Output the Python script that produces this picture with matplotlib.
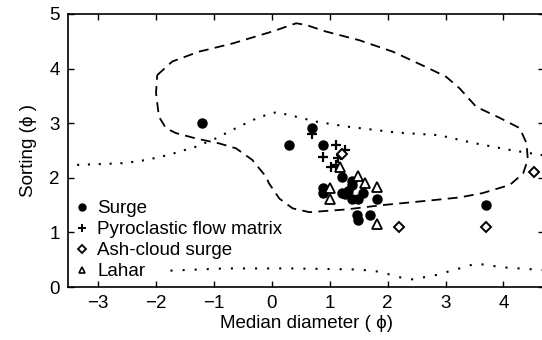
import matplotlib
matplotlib.use("Agg")
import matplotlib.pyplot as plt
from matplotlib.lines import Line2D

plt.rcParams['font.family'] = ['Liberation Sans', 'DejaVu Sans']

# ---- data ----
surge_x = [-1.20, 0.30, 0.69, 0.89, 1.21, 0.89, 0.89, 1.21, 1.38, 1.32, 1.38, 1.49,
           1.58, 1.81, 1.47, 1.49, 1.70, 3.70, 1.38, 1.26]
surge_y = [3.01, 2.60, 2.91, 2.60, 2.02, 1.81, 1.72, 1.72, 1.87, 1.75, 1.62, 1.61,
           1.72, 1.62, 1.32, 1.23, 1.32, 1.51, 1.95, 1.70]

pyro_x = [0.69, 1.10, 0.89, 1.26, 1.15, 1.10, 1.03, 1.20]
pyro_y = [2.80, 2.60, 2.39, 2.51, 2.36, 2.23, 2.20, 2.42]

ash_x = [2.20, 3.70, 4.52, 1.22]
ash_y = [1.10, 1.10, 2.11, 2.44]

lahar_x = [1.18, 1.49, 1.61, 1.81, 1.00, 1.00, 1.81]
lahar_y = [2.20, 2.03, 1.91, 1.84, 1.81, 1.62, 1.15]

# dashed envelope
env_x = [-1.98, -1.72, -1.26, -0.68, 0.01, 0.42, 0.59, 0.93, 1.51, 2.09, 2.66, 3.01,
         3.24, 3.53, 3.93, 4.28, 4.40, 4.42, 4.34, 4.11, 3.64, 3.24, 2.78, 1.91,
         1.28, 0.65, 0.36, 0.13, -0.05, -0.10, -0.34, -0.62, -0.91, -1.31, -1.66,
         -1.83, -1.95, -2.00, -1.98]
env_y = [3.88, 4.13, 4.31, 4.46, 4.68, 4.83, 4.80, 4.68, 4.52, 4.31, 4.03, 3.85,
         3.64, 3.30, 3.10, 2.91, 2.63, 2.33, 2.08, 1.87, 1.72, 1.64, 1.59, 1.50,
         1.42, 1.37, 1.44, 1.62, 1.90, 2.02, 2.33, 2.54, 2.63, 2.72, 2.82,
         2.91, 3.12, 3.55, 3.88]

# upper dotted line
up_x = [-3.55, -2.99, -2.53, -2.15, -1.78, -1.31, -0.97, -0.62, -0.22, 0.07, 0.30,
        0.76, 1.28, 2.15, 2.89, 3.47, 4.11, 4.70]
up_y = [2.23, 2.25, 2.27, 2.33, 2.42, 2.57, 2.72, 2.91, 3.11, 3.20, 3.15,
        3.03, 2.94, 2.83, 2.78, 2.64, 2.51, 2.41]

# lower dotted line
lo_x = [-1.75, -0.80, 0.36, 1.51, 1.86, 2.20, 2.43, 2.84, 3.24, 3.53, 3.99, 4.70]
lo_y = [0.30, 0.34, 0.34, 0.32, 0.28, 0.18, 0.14, 0.22, 0.34, 0.43, 0.36, 0.31]

labels = ['Surge', 'Pyroclastic flow matrix', 'Ash-cloud surge', 'Lahar']
xticks = [-3, -2, -1, 0, 1, 2, 3, 4]
yticks = [0, 1, 2, 3, 4, 5]

# ---- figure ----
fig = plt.figure(figsize=(5.42, 3.40), dpi=100)
ax = fig.add_axes([68/542, 53/340, 476/542, 273/340])

ax.plot(env_x, env_y, color='black', lw=1.3, linestyle=(0, (5.5, 3.5)))
ax.plot(up_x, up_y, color='black', lw=1.5, linestyle=(0, (1, 4.2)))
ax.plot(lo_x, lo_y, color='black', lw=1.5, linestyle=(0, (1, 4.8)))

ax.plot(surge_x, surge_y, 'o', color='black', ms=6.5, ls='none')
ax.plot(pyro_x, pyro_y, '+', color='black', ms=7, mew=1.6, ls='none')
ax.plot(ash_x, ash_y, 'D', mfc='white', mec='black', ms=4.8, mew=1.4, ls='none')
ax.plot(lahar_x, lahar_y, '^', mfc='white', mec='black', ms=6.5, mew=1.3, ls='none')

ax.set_xlim(-3.52, 4.70)
ax.set_ylim(0, 5)
ax.set_xticks(xticks)
ax.set_yticks(yticks)
ax.tick_params(direction='in', top=True, right=True, length=4, width=1,
               labelsize=13.5, pad=6)
for s in ax.spines.values():
    s.set_linewidth(1.2)

ax.set_xlabel('Median diameter ( ϕ)', fontsize=13.5, labelpad=2)
ax.set_ylabel('Sorting (ϕ )', fontsize=13.5, labelpad=9)

handles = [
    Line2D([], [], marker='o', color='black', ls='none', ms=5),
    Line2D([], [], marker='+', color='black', ls='none', ms=6, mew=1.4),
    Line2D([], [], marker='D', mfc='white', mec='black', ls='none', ms=4, mew=1.3),
    Line2D([], [], marker='^', mfc='white', mec='black', ls='none', ms=5, mew=1.2),
]
ax.legend(handles, labels, loc='lower left', bbox_to_anchor=(-0.009, -0.016),
          frameon=False, fontsize=13.5, handlelength=0.8, handletextpad=0.4,
          labelspacing=0.2, borderaxespad=0.2)

fig.savefig('out.png', dpi=100)
